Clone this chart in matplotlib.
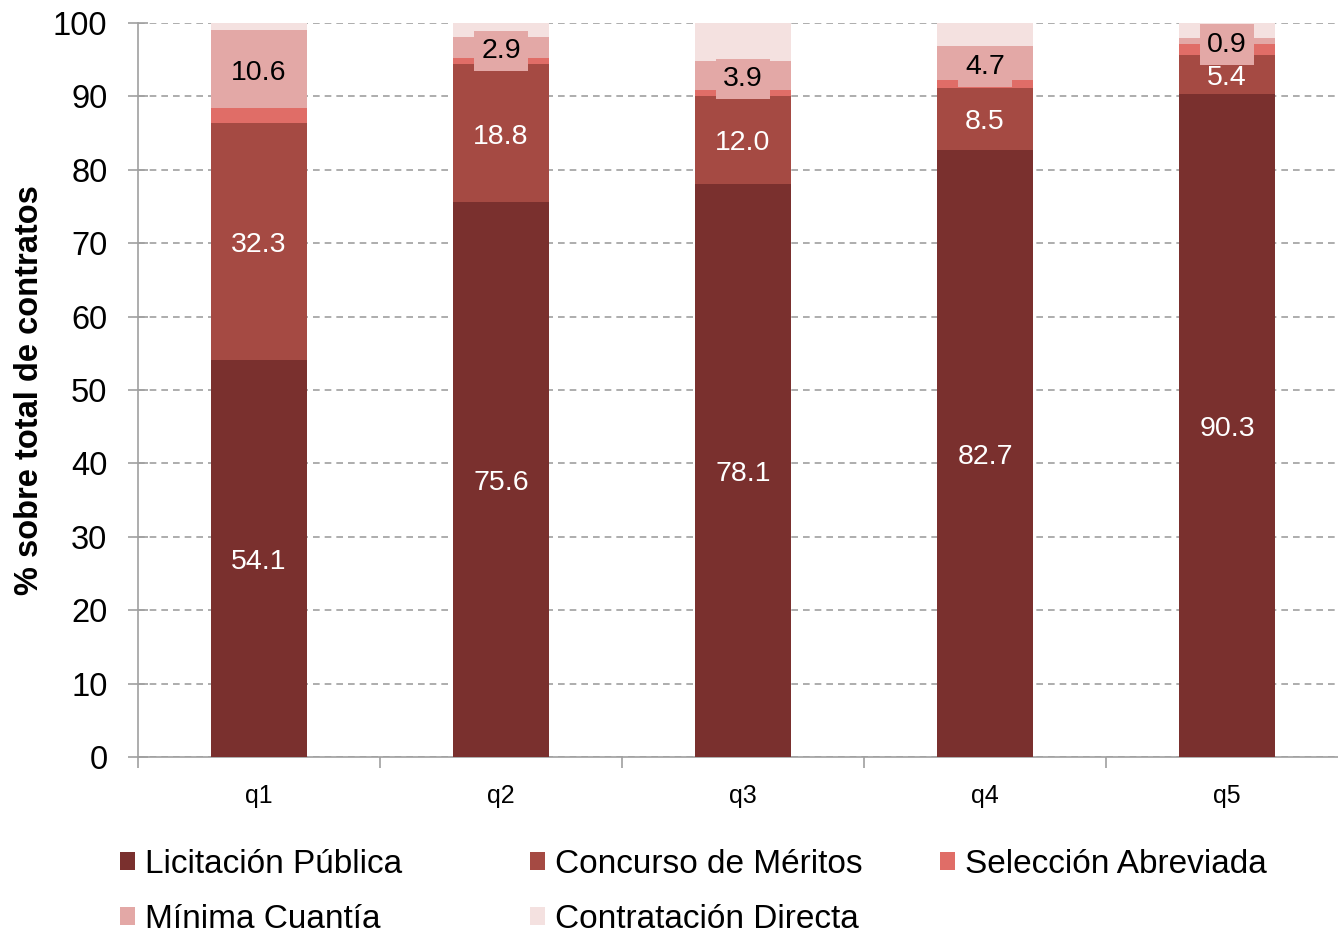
import matplotlib
matplotlib.use("Agg")
import matplotlib.pyplot as plt
import numpy as np

plt.rcParams['font.family'] = ['Liberation Sans', 'DejaVu Sans']

categories = ["q1", "q2", "q3", "q4", "q5"]
licitacion = [54.1, 75.6, 78.1, 82.7, 90.3]
concurso = [32.3, 18.8, 12.0, 8.5, 5.4]
seleccion = [2.0, 0.8, 0.8, 1.0, 1.4]
minima = [10.6, 2.9, 3.9, 4.7, 0.9]
directa = [1.0, 1.9, 5.2, 3.1, 2.0]

series_names = ["Licitación Pública", "Concurso de Méritos", "Selección Abreviada",
                "Mínima Cuantía", "Contratación Directa"]
series_vals = [licitacion, concurso, seleccion, minima, directa]
colors = ["#7A302E", "#A54A43", "#E06D67", "#E3A8A6", "#F4E1E0"]
label_style = {0: "white", 1: "white", 3: "box"}

fig = plt.figure(figsize=(13.38, 9.33), dpi=100)
ax = fig.add_axes([0.1031, 0.1886, 0.9044, 0.7867])

x = np.arange(len(categories))
bottom = np.zeros(len(categories))
handles = []
for i, (name, vals, col) in enumerate(zip(series_names, series_vals, colors)):
    vals = np.array(vals)
    b = ax.bar(x, vals, width=0.4, bottom=bottom, color=col, label=name, zorder=3)
    handles.append(b)
    if i in label_style:
        for xi, v, bt in zip(x, vals, bottom):
            yc = bt + v / 2
            kw = dict(ha="center", va="center", fontsize=20.5, zorder=5,
                      xytext=(0, -2.5), textcoords="offset points")
            if label_style[i] == "white":
                ax.annotate(f"{v:.1f}", (xi, yc), color="white", **kw)
            else:
                ax.annotate(f"{v:.1f}", (xi, yc), color="black",
                            bbox=dict(boxstyle="square,pad=0.25", facecolor=col,
                                      edgecolor="none"), **kw)
    bottom += vals

ax.set_xlim(-0.5, 4.5)
ax.set_ylim(0, 100)
ax.set_yticks(np.arange(0, 101, 10))
ax.tick_params(axis="y", labelsize=23.5, direction="inout", length=14,
               color="#A0A0A0", width=1.2, pad=15)
ax.set_xticks(x)
ax.set_xticklabels(categories)
ax.tick_params(axis="x", labelsize=18, length=0, pad=19.5)
ax.set_xticks(np.arange(-0.5, 4.6, 1), minor=True)
ax.tick_params(axis="x", which="minor", length=8, color="#A0A0A0", width=1.2)

ax.yaxis.grid(True, linestyle=(0, (4, 3)), color="#A0A0A0", linewidth=1.2, zorder=0)
ax.set_axisbelow(True)
for s in ["top", "right"]:
    ax.spines[s].set_visible(False)
for s in ["left", "bottom"]:
    ax.spines[s].set_color("#A0A0A0")
    ax.spines[s].set_linewidth(1.2)

ax.set_ylabel("% sobre total de contratos", fontsize=23.5, fontweight="bold")
ax.yaxis.set_label_coords(-0.077, 0.5)

# legend laid out in rows: three columns at fixed positions
legend_cols = [
    ([0, 3], 120),
    ([1, 4], 530),
    ([2], 940),
]
for idxs, px in legend_cols:
    fig.legend(handles=[handles[k] for k in idxs],
               labels=[series_names[k] for k in idxs],
               loc="upper left", bbox_to_anchor=(px / 1338, 1 - 849 / 933),
               frameon=False, fontsize=24, handlelength=0.45, handleheight=0.45,
               handletextpad=0.3, labelspacing=0.72, borderaxespad=0,
               borderpad=0)

fig.savefig("out.png", dpi=100)
